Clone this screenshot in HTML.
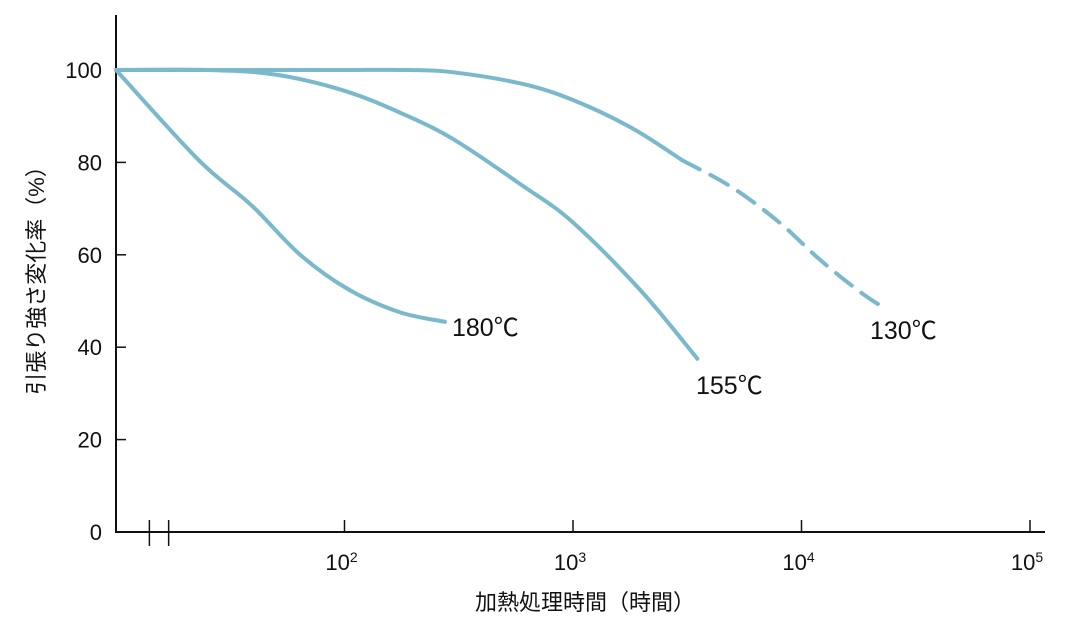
<!DOCTYPE html>
<html><head><meta charset="utf-8"><style>
body{margin:0;background:#fff}
svg{display:block;font-family:"Liberation Sans","Noto Sans CJK JP",sans-serif}
</style></head><body>
<svg id="chart" width="1080" height="631" viewBox="0 0 1080 631">
<g id="axes"></g><g id="series"></g>
</svg>
<script>
const yTicks=[0,20,40,60,80,100];
const xTickExps=[2,3,4,5];
const minorTicks=[14,17];
const s180x=[10,23,39,64,105,174,275];
const s180y=[100,80.5,70.8,60,52.4,47.6,45.5];
const s155x=[10,25,50,100,180,300,600,1000,2000,3500];
const s155y=[100,100,99,95.5,90.5,85,75,67,52,37.5];
const s130sx=[10,50,100,190,300,600,1000,1800,3000];
const s130sy=[100,100,100,100,99.5,97,93.5,87.5,80.5];
const s130dx=[3000,5000,8000,12000,18000,23000];
const s130dy=[80.5,74.5,67,59,52,48.5];
const labels=[["180℃",452,336],["155℃",696,394],["130℃",870,339]];

const NS="http://www.w3.org/2000/svg";
const X=v=>116+(Math.log10(v)-1)*228.5;
const Y=v=>532-v*4.62;
function el(t,a,p){const e=document.createElementNS(NS,t);for(const k in a)e.setAttribute(k,a[k]);p.appendChild(e);return e;}
const ax=document.getElementById('axes'),se=document.getElementById('series');
let e;
e=el('line',{x1:116,y1:15,x2:116,y2:533,stroke:'#111','stroke-width':2},ax);


e=el('line',{x1:115,y1:532,x2:1045,y2:532,stroke:'#111','stroke-width':2},ax);


yTicks.forEach(v=>{
 el('line',{x1:116,y1:Y(v),x2:126,y2:Y(v),stroke:'#111','stroke-width':1.5},ax);
 e=el('text',{x:102,y:Y(v)+8,'text-anchor':'end','font-size':22,fill:'#111'},ax);
 e.textContent=v;
 
 
});
xTickExps.forEach(p=>{
 const x=X(Math.pow(10,p));
 el('line',{x1:x,y1:520,x2:x,y2:532,stroke:'#111','stroke-width':1.5},ax);
 e=el('text',{x:x-3,y:570,'text-anchor':'middle','font-size':22,fill:'#111'},ax);
 e.innerHTML='10<tspan dy="-8" font-size="14">'+p+'</tspan>';
 
 
});
minorTicks.forEach(v=>{el('line',{x1:X(v),y1:520,x2:X(v),y2:546,stroke:'#111','stroke-width':1.5},ax);});
e=el('text',{x:585,y:610,'text-anchor':'middle','font-size':22,fill:'#111'},ax);
e.textContent='加熱処理時間（時間）';


e=el('text',{x:0,y:0,'text-anchor':'middle','font-size':22,fill:'#111',transform:'translate(44,275) rotate(-90)'},ax);
e.textContent='引張り強さ変化率（%）';


function path(xs,ys){
 const pts=xs.map((x,i)=>[X(x),Y(ys[i])]);
 let d='M'+pts[0];
 for(let i=0;i<pts.length-1;i++){
  const p0=pts[i-1]||pts[i],p1=pts[i],p2=pts[i+1],p3=pts[i+2]||p2;
  d+=' C'+(p1[0]+(p2[0]-p0[0])/6)+','+(p1[1]+(p2[1]-p0[1])/6)+' '+(p2[0]-(p3[0]-p1[0])/6)+','+(p2[1]-(p3[1]-p1[1])/6)+' '+p2;
 }
 return d;
}
const st={fill:'none',stroke:'#7ab8cc','stroke-width':4,'stroke-linecap':'round'};
e=el('path',Object.assign({d:path(s180x,s180y)},st),se);


e=el('path',Object.assign({d:path(s155x,s155y)},st),se);


e=el('path',Object.assign({d:path(s130sx,s130sy)},st),se);


e=el('path',Object.assign({d:path(s130dx,s130dy),'stroke-dasharray':'20 12','stroke-linecap':'butt'},st),se);


labels.forEach(l=>{
 e=el('text',{x:l[1],y:l[2],'font-size':25,fill:'#111'},se);
 e.textContent=l[0];
 
 
});
</script>
</body></html>
